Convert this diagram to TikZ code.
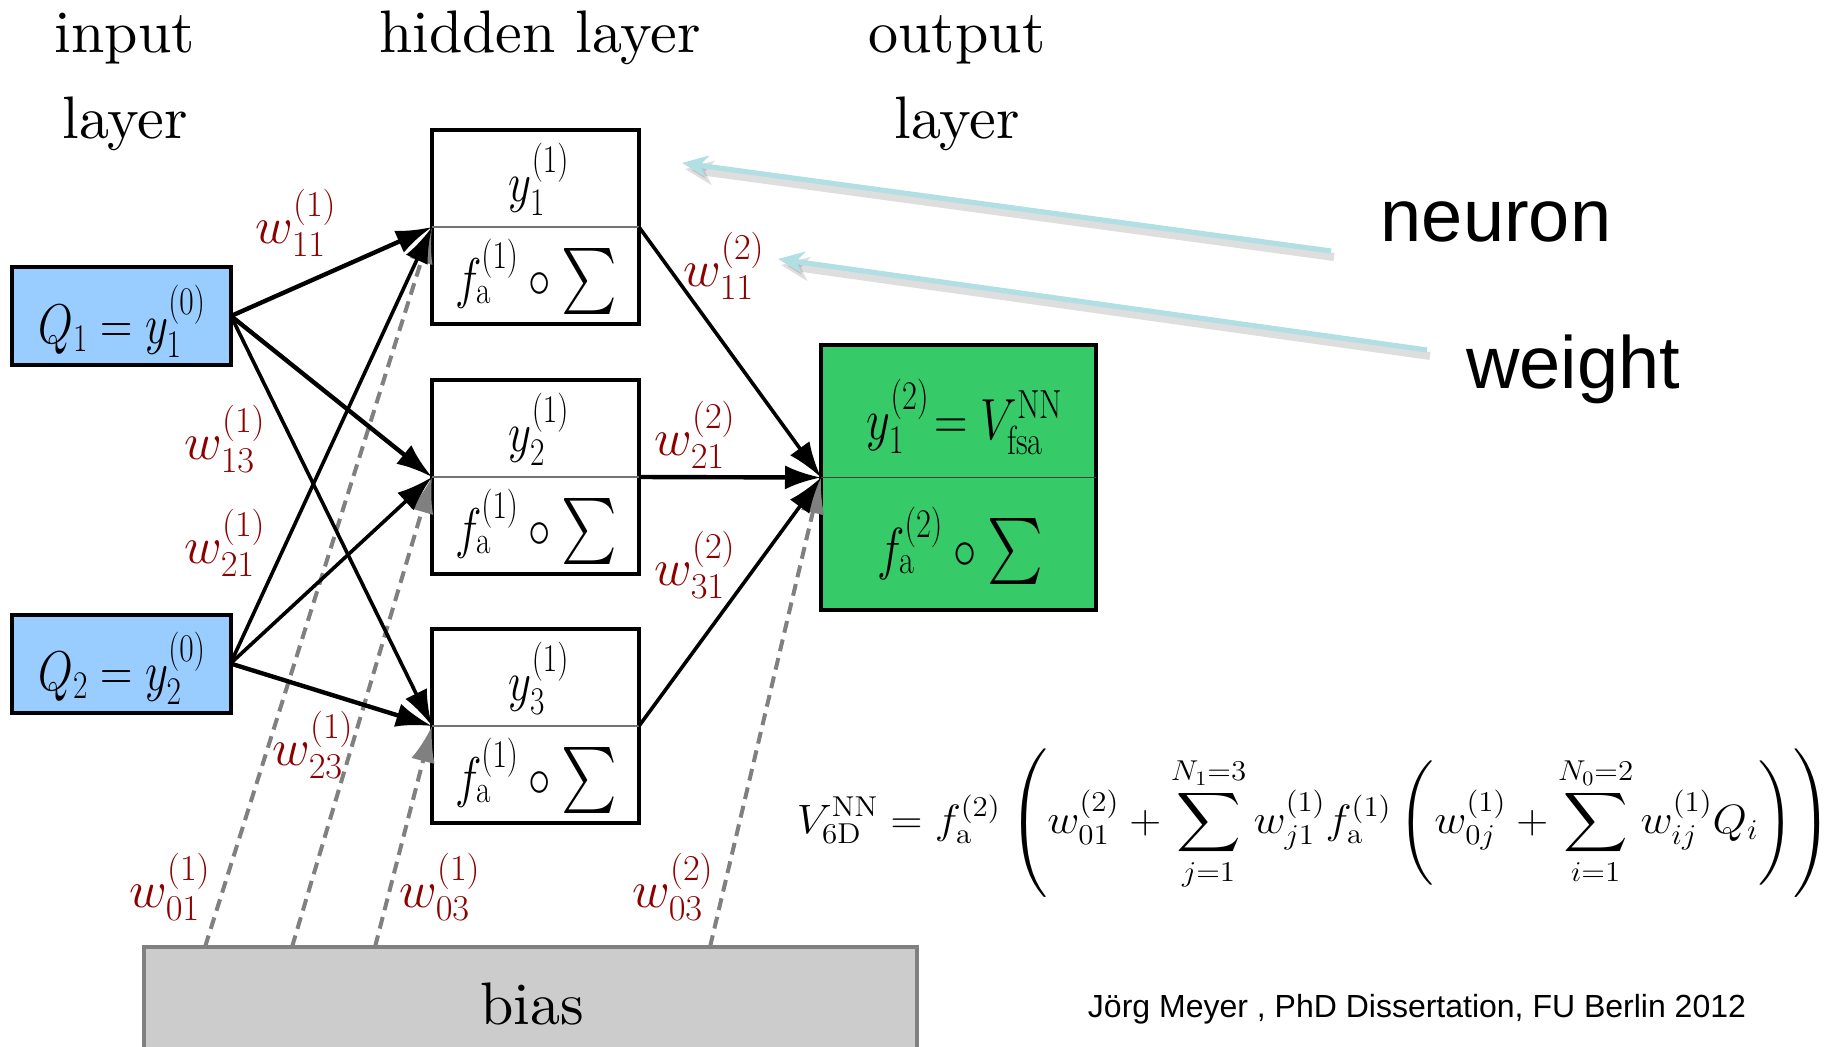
\RequirePackage{fix-cm}
\documentclass[tikz,border=0pt]{standalone}
\usepackage{amsmath}
\usepackage{graphicx}
\usepackage{fontspec}
\newfontfamily\arialf{Liberation Sans}
\newfontfamily\lmten{lmroman10-regular.otf}
\usetikzlibrary{arrows.meta,calc}
\definecolor{inblue}{RGB}{153,204,255}
\definecolor{outgreen}{RGB}{54,202,104}
\definecolor{biasfill}{RGB}{204,204,204}
\definecolor{biasedge}{RGB}{128,128,128}
\definecolor{wred}{RGB}{140,0,0}
\definecolor{ptrblue}{RGB}{178,223,228}
\definecolor{dashgray}{RGB}{128,128,128}
\newcommand{\nsq}[1]{\scalebox{0.8}[1]{#1}}
\newcommand{\bigsig}{{\fontsize{10}{12}\selectfont\scalebox{3.3}{$\sum$}}}
\newcommand{\fsig}[1]{\nsq{$f^{(#1)}_{\mathrm{a}}\circ{}$\bigsig}}
\begin{document}
\begin{tikzpicture}[x=0.5pt,y=-0.5pt]
\tikzset{
 every node/.style={inner sep=0pt, outer sep=0pt},
 inbox/.style={draw, line width=2pt, fill=inblue, minimum width=109.5pt, minimum height=49pt},
 hbox/.style={draw, line width=2pt, fill=white, minimum width=103.5pt, minimum height=97pt},
 obox/.style={draw, line width=2pt, fill=outgreen, minimum width=137.5pt, minimum height=132.5pt},
 biasbox/.style={draw=biasedge, line width=2pt, fill=biasfill, minimum width=386.5pt, minimum height=57.5pt},
 title/.style={font=\lmten\fontsize{30}{36}\selectfont, anchor=base},
 boxmath/.style={font=\fontsize{28}{34}\selectfont},
 outmath/.style={font=\fontsize{29}{35}\selectfont},
 wlabel/.style={text=wred, font=\fontsize{26}{31}\selectfont},
 conn/.style={-{Latex[length=18pt,width=12pt]}, line width=2.2pt},
 connthin/.style={conn, line width=1.8pt},
 biasconn/.style={draw=dashgray, line width=2pt, dash pattern=on 6pt off 3.5pt, -{Latex[length=18pt,width=12pt,color=dashgray]}},
 divider/.style={line width=0.6pt, draw=black!55},
 pointer/.style={draw=ptrblue, line width=2.6pt, -{Stealth[length=13pt,width=11pt,inset=4pt]}},
 pshadow/.style={draw=black, opacity=0.13, line width=4pt, -{Stealth[length=14pt,width=12pt,inset=4pt]}},
 sidetext/.style={font=\arialf\fontsize{37}{44}\selectfont, anchor=base},
}
\useasboundingbox (0,0) rectangle (1827,1046);

% titles
\node[title] (tin1) at (125,52) {input};
\node[title] (tin2) at (125,138) {layer};
\node[title] (thid) at (540,52) {hidden layer};
\node[title] (tout1) at (957,52) {output};
\node[title] (tout2) at (957,138) {layer};

% bias box
\node[biasbox] (bias) at (530.5,1004.5) {};
\node[font=\lmten\fontsize{30}{36}\selectfont] (biastext) at (532,1004) {bias};
\coordinate (b1) at (205,947);
\coordinate (b2) at (292,947);
\coordinate (b3) at (375,947);
\coordinate (b4) at (710,947);

% input boxes
\node[inbox] (q1) at (121.5,316) {};
\node[inbox] (q2) at (121,663.5) {};
\node[boxmath] (q1t) at (122,321) {\nsq{$Q_1=y^{(0)}_1$}};
\node[boxmath] (q2t) at (122,668) {\nsq{$Q_2=y^{(0)}_2$}};

% hidden boxes
\node[hbox] (h1) at (535.5,227) {};
\node[hbox] (h2) at (535.5,477) {};
\node[hbox] (h3) at (535.5,726) {};
\draw[divider] (h1.west) -- (h1.east);
\draw[divider] (h2.west) -- (h2.east);
\draw[divider] (h3.west) -- (h3.east);
\node[boxmath] (h1a) at (539,179) {\nsq{$y^{(1)}_1$}};
\node[boxmath] (h1b) at (536,277) {\fsig{1}};
\node[boxmath] (h2a) at (539,429) {\nsq{$y^{(1)}_2$}};
\node[boxmath] (h2b) at (536,527) {\fsig{1}};
\node[boxmath] (h3a) at (539,678) {\nsq{$y^{(1)}_3$}};
\node[boxmath] (h3b) at (536,776) {\fsig{1}};

% output box
\node[obox] (o) at (958.5,477.5) {};
\draw[divider, draw=black!75] (o.west) -- (o.east);
\node[outmath] (oa) at (965,417) {\nsq{$y^{(2)}_1\!= V^{\mathrm{NN}}_{\mathrm{fsa}}$}};
\node[outmath] (ob) at (960,546) {\fsig{2}};

% bias connectors
\draw[biasconn] (b1) -- (h1.west);
\draw[biasconn] (b2) -- (h2.west);
\draw[biasconn] (b3) -- (h3.west);
\draw[biasconn] (b4) -- (o.west);

% input -> hidden
\draw[conn] (q1.east) -- (h1.west);
\draw[conn] (q1.east) -- (h2.west);
\draw[connthin] (q1.east) -- (h3.west);
\draw[connthin] (q2.east) -- (h1.west);
\draw[connthin] (q2.east) -- (h2.west);
\draw[conn] (q2.east) -- (h3.west);
% hidden -> output
\draw[connthin] (h1.east) -- (o.west);
\draw[conn] (h2.east) -- (o.west);
\draw[connthin] (h3.east) -- (o.west);

% weight labels
\node[wlabel] (w11) at (296,223) {$w^{(1)}_{11}$};
\node[wlabel] (w13) at (225,439) {$w^{(1)}_{13}$};
\node[wlabel] (w21) at (225,543) {$w^{(1)}_{21}$};
\node[wlabel] (w23) at (313,745) {$w^{(1)}_{23}$};
\node[wlabel] (w01) at (170,887) {$w^{(1)}_{01}$};
\node[wlabel] (w03) at (440,887) {$w^{(1)}_{03}$};
\node[wlabel] (w032) at (673,887) {$w^{(2)}_{03}$};
\node[wlabel] (w112) at (724,266) {$w^{(2)}_{11}$};
\node[wlabel] (w212) at (695,435) {$w^{(2)}_{21}$};
\node[wlabel] (w312) at (695,565) {$w^{(2)}_{31}$};

% side texts and pointers
\node[sidetext] (neuron) at (1496,241) {neuron};
\node[sidetext] (weight) at (1573,388) {weight};
\coordinate (ntail) at (1331,251);
\coordinate (ntip) at (682,163);
\coordinate (wtail) at (1427,350);
\coordinate (wtip) at (778,259);
\draw[pshadow] ($(ntail)+(3,6)$) -- ($(ntip)+(3,6)$);
\draw[pshadow] ($(wtail)+(3,6)$) -- ($(wtip)+(3,6)$);
\draw[pointer] (ntail) -- (ntip);
\draw[pointer] (wtail) -- (wtip);

% formula
\node[font=\fontsize{20.5}{25}\selectfont] (formula) at (1315,823) {\scalebox{1.08}[1]{$\displaystyle V^{\mathrm{NN}}_{\mathrm{6D}} = f^{(2)}_{\mathrm{a}} \left( w^{(2)}_{01} + \sum_{j=1}^{N_1=3} w^{(1)}_{j1} f^{(1)}_{\mathrm{a}} \left( w^{(1)}_{0j} + \sum_{i=1}^{N_0=2} w^{(1)}_{ij} Q_i \right)\right)$}};

% footer
\node[font=\arialf\fontsize{16}{19}\selectfont, anchor=base] (footer) at (1417,1017) {Jörg Meyer , PhD Dissertation, FU Berlin 2012};
\end{tikzpicture}
\end{document}
